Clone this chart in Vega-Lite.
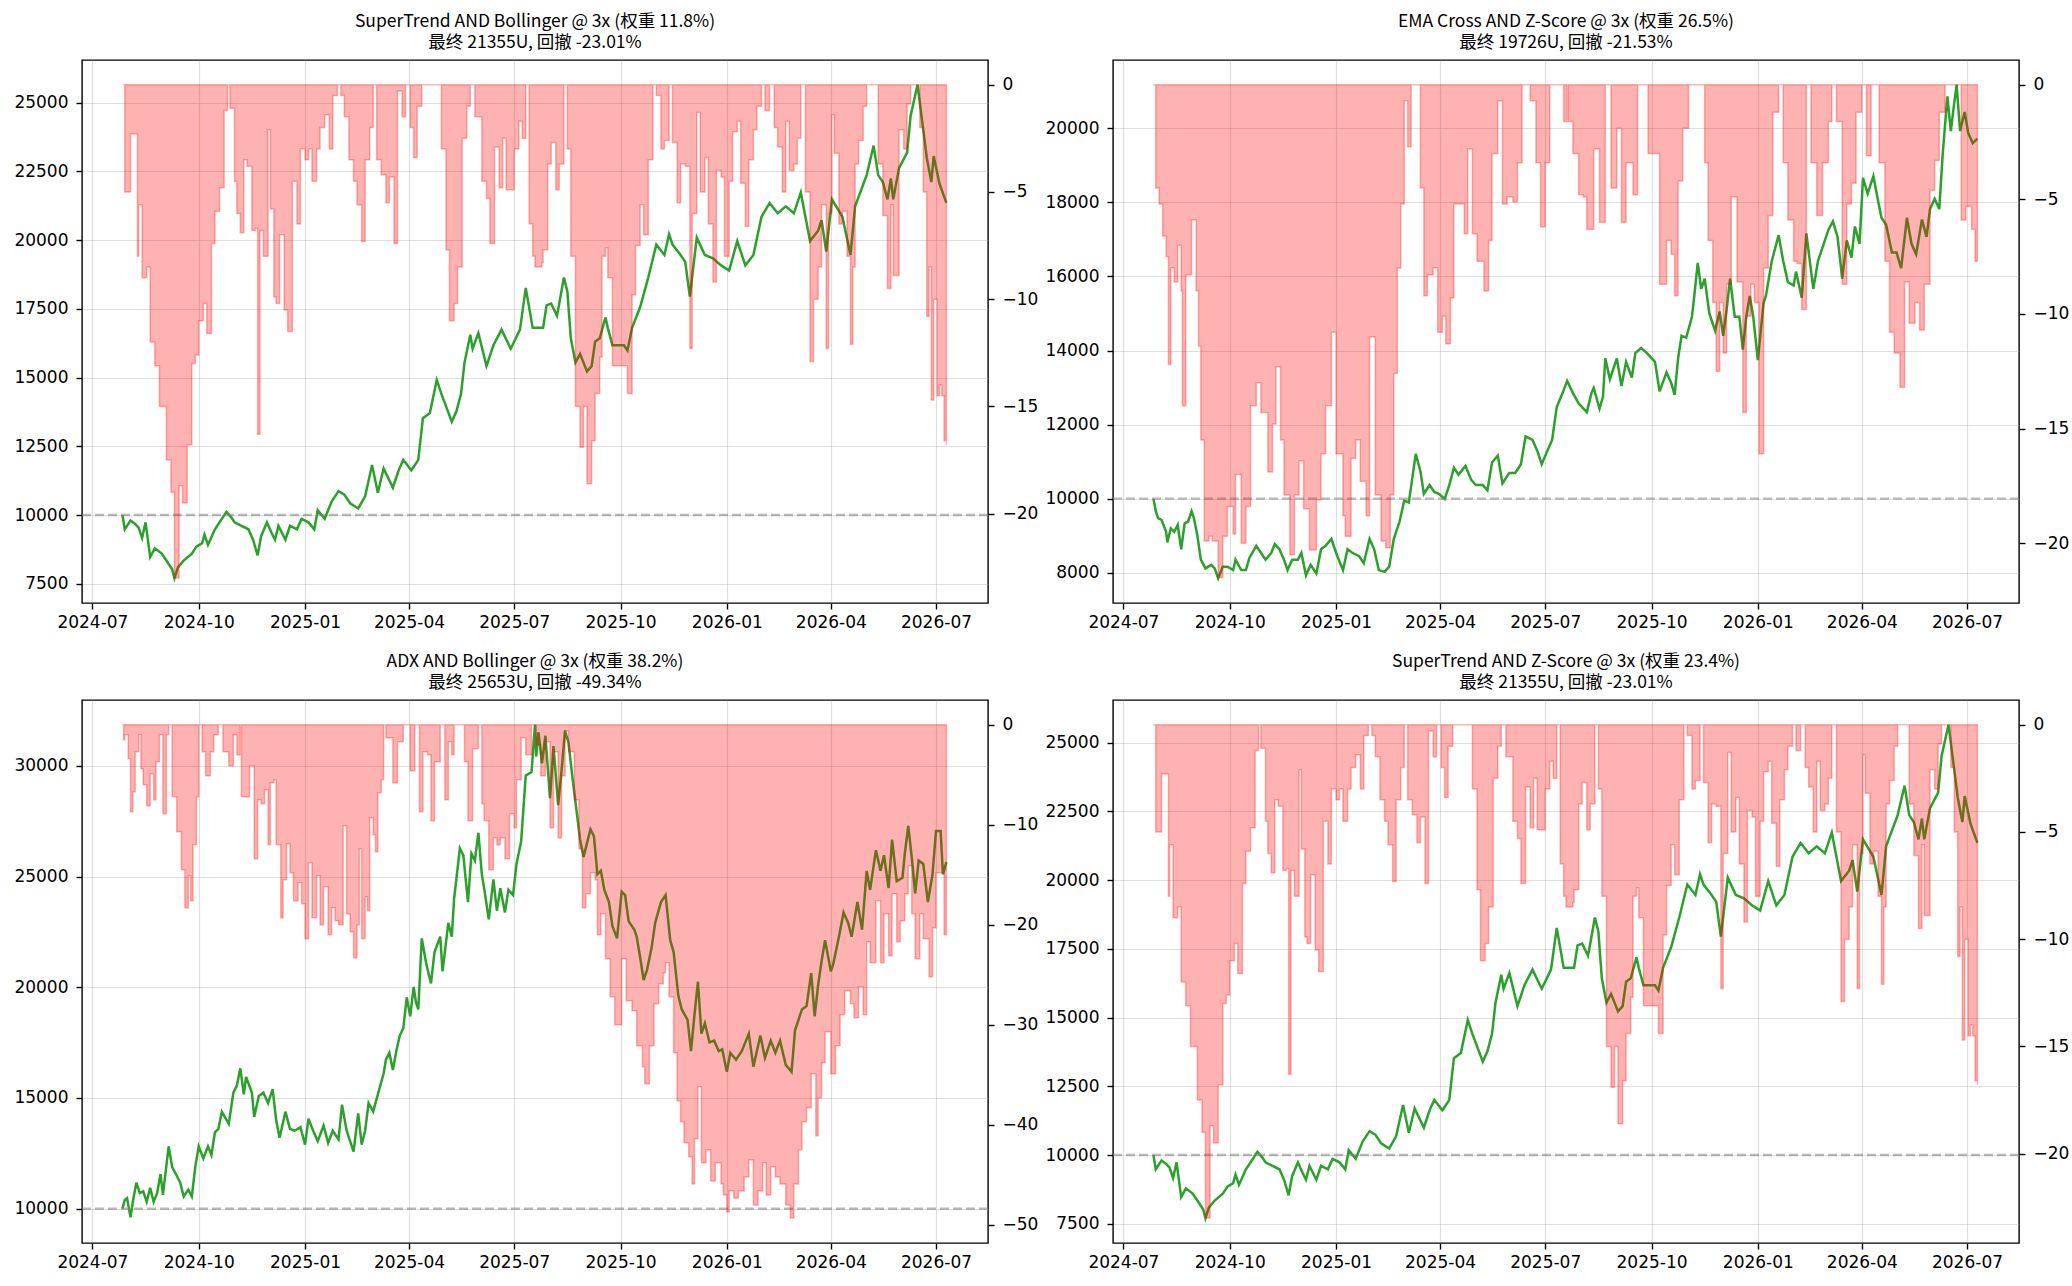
{
  "$schema": "https://vega.github.io/schema/vega-lite/v6.json",
  "autosize": {"type": "pad"},
  "padding": {"left": 13, "top": 11, "right": 0, "bottom": 0},
  "background": "white",
  "datasets": {
    "eq1": [
      {"t":"2024-07-27","v":10000},{"t":"2024-07-29","v":9482},{"t":"2024-08-03","v":9798},{"t":"2024-08-07","v":9672},
      {"t":"2024-08-10","v":9545},{"t":"2024-08-13","v":9166},{"t":"2024-08-16","v":9735},{"t":"2024-08-18","v":9103},
      {"t":"2024-08-20","v":8472},{"t":"2024-08-24","v":8788},{"t":"2024-08-30","v":8598},{"t":"2024-09-03","v":8345},
      {"t":"2024-09-08","v":8030},{"t":"2024-09-10","v":7699},{"t":"2024-09-13","v":8093},{"t":"2024-09-18","v":8345},
      {"t":"2024-09-25","v":8598},{"t":"2024-09-29","v":8851},{"t":"2024-10-04","v":8977},{"t":"2024-10-06","v":9293},
      {"t":"2024-10-09","v":8914},{"t":"2024-10-15","v":9482},{"t":"2024-10-19","v":9735},{"t":"2024-10-25","v":10114},
      {"t":"2024-10-29","v":9924},{"t":"2024-11-01","v":9735},{"t":"2024-11-07","v":9608},{"t":"2024-11-13","v":9482},
      {"t":"2024-11-17","v":9103},{"t":"2024-11-21","v":8535},{"t":"2024-11-24","v":9230},{"t":"2024-11-29","v":9735},
      {"t":"2024-12-03","v":9356},{"t":"2024-12-06","v":9103},{"t":"2024-12-09","v":9608},{"t":"2024-12-15","v":9103},
      {"t":"2024-12-19","v":9608},{"t":"2024-12-25","v":9482},{"t":"2024-12-29","v":9861},{"t":"2025-01-04","v":9735},
      {"t":"2025-01-09","v":9482},{"t":"2025-01-12","v":10177},{"t":"2025-01-18","v":9861},{"t":"2025-01-24","v":10493},
      {"t":"2025-01-30","v":10871},{"t":"2025-02-04","v":10745},{"t":"2025-02-09","v":10429},{"t":"2025-02-16","v":10240},
      {"t":"2025-02-22","v":10682},{"t":"2025-02-28","v":11819},{"t":"2025-03-05","v":10808},{"t":"2025-03-10","v":11692},
      {"t":"2025-03-18","v":10998},{"t":"2025-03-23","v":11629},{"t":"2025-03-27","v":12008},{"t":"2025-04-03","v":11629},
      {"t":"2025-04-09","v":12008},{"t":"2025-04-13","v":13524},{"t":"2025-04-19","v":13713},{"t":"2025-04-25","v":14913},
      {"t":"2025-04-29","v":14408},{"t":"2025-05-08","v":13398},{"t":"2025-05-12","v":13776},{"t":"2025-05-16","v":14408},
      {"t":"2025-05-19","v":15545},{"t":"2025-05-24","v":16555},{"t":"2025-05-26","v":16050},{"t":"2025-05-31","v":16618},
      {"t":"2025-06-07","v":15418},{"t":"2025-06-13","v":16176},{"t":"2025-06-20","v":16744},{"t":"2025-06-28","v":16050},
      {"t":"2025-07-06","v":16744},{"t":"2025-07-11","v":18260},{"t":"2025-07-17","v":16808},{"t":"2025-07-26","v":16808},
      {"t":"2025-07-29","v":17629},{"t":"2025-08-02","v":17692},{"t":"2025-08-07","v":17250},{"t":"2025-08-09","v":17692},
      {"t":"2025-08-13","v":18639},{"t":"2025-08-16","v":18134},{"t":"2025-08-19","v":16429},{"t":"2025-08-23","v":15545},
      {"t":"2025-08-27","v":15861},{"t":"2025-08-30","v":15545},{"t":"2025-09-02","v":15229},{"t":"2025-09-06","v":15418},
      {"t":"2025-09-09","v":16303},{"t":"2025-09-13","v":16429},{"t":"2025-09-18","v":17187},{"t":"2025-09-20","v":16808},
      {"t":"2025-09-24","v":16176},{"t":"2025-10-04","v":16176},{"t":"2025-10-07","v":15987},{"t":"2025-10-11","v":16808},
      {"t":"2025-10-18","v":17566},{"t":"2025-10-25","v":18639},{"t":"2025-11-01","v":19839},{"t":"2025-11-08","v":19460},
      {"t":"2025-11-12","v":20218},{"t":"2025-11-15","v":19839},{"t":"2025-11-22","v":19460},{"t":"2025-11-26","v":19207},
      {"t":"2025-11-30","v":17944},{"t":"2025-12-06","v":20091},{"t":"2025-12-13","v":19460},{"t":"2025-12-20","v":19334},
      {"t":"2025-12-27","v":19081},{"t":"2026-01-03","v":18892},{"t":"2026-01-10","v":19965},{"t":"2026-01-17","v":19081},
      {"t":"2026-01-24","v":19460},{"t":"2026-01-31","v":20849},{"t":"2026-02-07","v":21354},{"t":"2026-02-14","v":20975},
      {"t":"2026-02-21","v":21228},{"t":"2026-02-28","v":20975},{"t":"2026-03-06","v":21733},{"t":"2026-03-14","v":19965},
      {"t":"2026-03-21","v":20344},{"t":"2026-03-24","v":20723},{"t":"2026-03-28","v":19586},{"t":"2026-04-02","v":21481},
      {"t":"2026-04-11","v":20849},{"t":"2026-04-18","v":19460},{"t":"2026-04-22","v":21228},{"t":"2026-05-02","v":22365},
      {"t":"2026-05-08","v":23438},{"t":"2026-05-12","v":22365},{"t":"2026-05-16","v":22112},{"t":"2026-05-20","v":21481},
      {"t":"2026-05-23","v":22238},{"t":"2026-05-25","v":21481},{"t":"2026-05-30","v":22618},{"t":"2026-06-06","v":23186},
      {"t":"2026-06-09","v":24512},{"t":"2026-06-15","v":25653},{"t":"2026-06-20","v":24007},{"t":"2026-06-23","v":22997},
      {"t":"2026-06-27","v":22112},{"t":"2026-06-29","v":23059},{"t":"2026-07-04","v":22049},{"t":"2026-07-10","v":21355}
    ],
    "dd1": [
      {"t":"2024-07-27","v":0},{"t":"2024-07-29","v":-5.0},{"t":"2024-08-03","v":-2.3},{"t":"2024-08-09","v":-8.0},
      {"t":"2024-08-10","v":-5.6},{"t":"2024-08-13","v":-9.0},{"t":"2024-08-17","v":-8.5},{"t":"2024-08-20","v":-12.0},
      {"t":"2024-08-24","v":-13.1},{"t":"2024-08-28","v":-15.0},{"t":"2024-08-31","v":-15.0},{"t":"2024-09-03","v":-17.5},
      {"t":"2024-09-07","v":-19.0},{"t":"2024-09-10","v":-23.0},{"t":"2024-09-14","v":-18.7},{"t":"2024-09-17","v":-19.5},
      {"t":"2024-09-21","v":-16.8},{"t":"2024-09-25","v":-13.0},{"t":"2024-09-28","v":-12.6},{"t":"2024-10-01","v":-11.0},
      {"t":"2024-10-05","v":-10.2},{"t":"2024-10-08","v":-11.6},{"t":"2024-10-12","v":-7.4},{"t":"2024-10-15","v":-5.9},
      {"t":"2024-10-19","v":-4.8},{"t":"2024-10-23","v":-1.2},{"t":"2024-10-26","v":0},{"t":"2024-10-28","v":-1.1},
      {"t":"2024-11-01","v":-4.5},{"t":"2024-11-03","v":-6.0},{"t":"2024-11-06","v":-6.9},{"t":"2024-11-09","v":-3.5},
      {"t":"2024-11-12","v":-3.8},{"t":"2024-11-16","v":-6.8},{"t":"2024-11-19","v":-6.7},{"t":"2024-11-21","v":-16.3},
      {"t":"2024-11-23","v":-6.8},{"t":"2024-11-26","v":-8.0},{"t":"2024-11-30","v":-2.1},{"t":"2024-12-02","v":-5.8},
      {"t":"2024-12-05","v":-9.9},{"t":"2024-12-07","v":-10.2},{"t":"2024-12-10","v":-7.0},{"t":"2024-12-14","v":-10.5},
      {"t":"2024-12-17","v":-11.5},{"t":"2024-12-21","v":-4.5},{"t":"2024-12-25","v":-6.5},{"t":"2024-12-28","v":-3.0},
      {"t":"2025-01-01","v":-3.5},{"t":"2025-01-04","v":-3.0},{"t":"2025-01-07","v":-4.5},{"t":"2025-01-11","v":-3.0},
      {"t":"2025-01-14","v":-2.0},{"t":"2025-01-18","v":-1.4},{"t":"2025-01-22","v":-3.0},{"t":"2025-01-25","v":-0.5},
      {"t":"2025-01-29","v":0},{"t":"2025-02-01","v":-0.5},{"t":"2025-02-04","v":-1.5},{"t":"2025-02-08","v":-3.5},
      {"t":"2025-02-12","v":-4.5},{"t":"2025-02-15","v":-5.6},{"t":"2025-02-19","v":-7.3},{"t":"2025-02-22","v":-3.5},
      {"t":"2025-02-26","v":-2.0},{"t":"2025-03-01","v":0},{"t":"2025-03-04","v":-3.5},{"t":"2025-03-08","v":-4.2},
      {"t":"2025-03-12","v":-5.5},{"t":"2025-03-15","v":-4.3},{"t":"2025-03-19","v":-7.4},{"t":"2025-03-22","v":-0.3},
      {"t":"2025-03-26","v":-1.5},{"t":"2025-03-29","v":0},{"t":"2025-04-02","v":-2.0},{"t":"2025-04-05","v":-3.4},
      {"t":"2025-04-08","v":-1.0},{"t":"2025-04-12","v":0},{"t":"2025-04-29","v":-3.0},{"t":"2025-05-03","v":-7.7},
      {"t":"2025-05-06","v":-11.0},{"t":"2025-05-10","v":-10.2},{"t":"2025-05-13","v":-8.5},{"t":"2025-05-17","v":-2.5},
      {"t":"2025-05-21","v":-1.0},{"t":"2025-05-24","v":0},{"t":"2025-05-28","v":-1.5},{"t":"2025-05-31","v":-1.5},
      {"t":"2025-06-03","v":-4.5},{"t":"2025-06-07","v":-5.3},{"t":"2025-06-10","v":-7.4},{"t":"2025-06-14","v":-2.9},
      {"t":"2025-06-18","v":-4.8},{"t":"2025-06-21","v":-2.5},{"t":"2025-06-24","v":-4.9},{"t":"2025-06-28","v":-4.9},
      {"t":"2025-07-01","v":-3.0},{"t":"2025-07-05","v":-1.7},{"t":"2025-07-08","v":-2.5},{"t":"2025-07-11","v":0},
      {"t":"2025-07-14","v":-6.5},{"t":"2025-07-17","v":-8.0},{"t":"2025-07-19","v":-8.5},{"t":"2025-07-25","v":-8.3},
      {"t":"2025-07-26","v":-7.7},{"t":"2025-07-30","v":-3.7},{"t":"2025-08-02","v":-2.7},{"t":"2025-08-06","v":-4.9},
      {"t":"2025-08-09","v":-3.7},{"t":"2025-08-13","v":0},{"t":"2025-08-16","v":-3.0},{"t":"2025-08-19","v":-8.0},
      {"t":"2025-08-23","v":-15.0},{"t":"2025-08-27","v":-16.9},{"t":"2025-08-30","v":-15.0},{"t":"2025-09-02","v":-18.6},
      {"t":"2025-09-06","v":-16.6},{"t":"2025-09-09","v":-14.4},{"t":"2025-09-13","v":-12.7},{"t":"2025-09-15","v":-8.0},
      {"t":"2025-09-18","v":-7.6},{"t":"2025-09-20","v":-9.0},{"t":"2025-09-24","v":-13.1},{"t":"2025-10-04","v":-13.1},
      {"t":"2025-10-07","v":-14.4},{"t":"2025-10-11","v":-9.8},{"t":"2025-10-14","v":-7.5},{"t":"2025-10-18","v":-5.6},
      {"t":"2025-10-21","v":-7.0},{"t":"2025-10-25","v":-3.5},{"t":"2025-10-29","v":0},{"t":"2025-11-01","v":-0.5},
      {"t":"2025-11-05","v":-3.0},{"t":"2025-11-08","v":-2.6},{"t":"2025-11-12","v":0},{"t":"2025-11-15","v":-2.7},
      {"t":"2025-11-19","v":-5.5},{"t":"2025-11-22","v":-3.7},{"t":"2025-11-26","v":-3.8},{"t":"2025-11-30","v":-12.3},
      {"t":"2025-12-02","v":-6.0},{"t":"2025-12-06","v":-1.3},{"t":"2025-12-09","v":-5.0},{"t":"2025-12-13","v":-3.4},
      {"t":"2025-12-16","v":-6.5},{"t":"2025-12-20","v":-9.2},{"t":"2025-12-23","v":-4.0},{"t":"2025-12-27","v":-4.3},
      {"t":"2025-12-30","v":-8.0},{"t":"2026-01-03","v":-4.5},{"t":"2026-01-06","v":-2.2},{"t":"2026-01-10","v":-1.7},
      {"t":"2026-01-13","v":-4.6},{"t":"2026-01-17","v":-6.6},{"t":"2026-01-20","v":-3.5},{"t":"2026-01-24","v":-2.1},
      {"t":"2026-01-27","v":-1.0},{"t":"2026-01-31","v":0},{"t":"2026-02-03","v":-1.2},{"t":"2026-02-07","v":0},
      {"t":"2026-02-11","v":-2.0},{"t":"2026-02-14","v":-2.9},{"t":"2026-02-18","v":-5.0},{"t":"2026-02-21","v":-1.7},
      {"t":"2026-02-24","v":-4.0},{"t":"2026-02-28","v":-3.7},{"t":"2026-03-03","v":-2.5},{"t":"2026-03-06","v":0},
      {"t":"2026-03-10","v":-5.0},{"t":"2026-03-14","v":-12.9},{"t":"2026-03-17","v":-10.0},{"t":"2026-03-21","v":-8.5},
      {"t":"2026-03-24","v":-5.6},{"t":"2026-03-28","v":-12.3},{"t":"2026-03-30","v":-6.0},{"t":"2026-04-02","v":-1.4},
      {"t":"2026-04-04","v":-3.2},{"t":"2026-04-08","v":-6.5},{"t":"2026-04-11","v":-5.9},{"t":"2026-04-15","v":-8.0},
      {"t":"2026-04-18","v":-12.1},{"t":"2026-04-20","v":-8.5},{"t":"2026-04-22","v":-3.7},{"t":"2026-04-25","v":-2.6},
      {"t":"2026-04-29","v":-1.0},{"t":"2026-05-02","v":0},{"t":"2026-05-08","v":0},{"t":"2026-05-12","v":-3.7},
      {"t":"2026-05-16","v":-6.1},{"t":"2026-05-20","v":-9.5},{"t":"2026-05-23","v":-5.6},{"t":"2026-05-25","v":-8.9},
      {"t":"2026-05-30","v":-2.1},{"t":"2026-06-03","v":-3.0},{"t":"2026-06-06","v":-0.9},{"t":"2026-06-09","v":0},
      {"t":"2026-06-15","v":0},{"t":"2026-06-17","v":-2.0},{"t":"2026-06-20","v":-5.0},{"t":"2026-06-23","v":-10.8},
      {"t":"2026-06-25","v":-8.5},{"t":"2026-06-27","v":-14.7},{"t":"2026-06-29","v":-10.0},{"t":"2026-07-02","v":-14.5},
      {"t":"2026-07-04","v":-14.0},{"t":"2026-07-06","v":-14.5},{"t":"2026-07-08","v":-16.6},{"t":"2026-07-10","v":-16.8}
    ],
    "eq2": [
      {"t":"2024-07-27","v":10000},{"t":"2024-07-29","v":9662},{"t":"2024-07-31","v":9475},{"t":"2024-08-03","v":9428},
      {"t":"2024-08-07","v":9100},{"t":"2024-08-08","v":8819},{"t":"2024-08-11","v":9194},{"t":"2024-08-14","v":9100},
      {"t":"2024-08-17","v":9287},{"t":"2024-08-20","v":8631},{"t":"2024-08-23","v":9334},{"t":"2024-08-26","v":9381},
      {"t":"2024-08-29","v":9662},{"t":"2024-08-31","v":9475},{"t":"2024-09-03","v":9006},{"t":"2024-09-06","v":8350},
      {"t":"2024-09-10","v":8115},{"t":"2024-09-15","v":8209},{"t":"2024-09-18","v":8115},{"t":"2024-09-21","v":7847},
      {"t":"2024-09-25","v":8162},{"t":"2024-09-29","v":8162},{"t":"2024-10-04","v":8069},{"t":"2024-10-06","v":8350},
      {"t":"2024-10-11","v":8069},{"t":"2024-10-15","v":8069},{"t":"2024-10-18","v":8397},{"t":"2024-10-24","v":8725},
      {"t":"2024-10-28","v":8537},{"t":"2024-11-01","v":8350},{"t":"2024-11-06","v":8537},{"t":"2024-11-09","v":8772},
      {"t":"2024-11-13","v":8631},{"t":"2024-11-17","v":8350},{"t":"2024-11-20","v":8069},{"t":"2024-11-24","v":8350},
      {"t":"2024-11-29","v":8350},{"t":"2024-12-02","v":8537},{"t":"2024-12-06","v":7928},{"t":"2024-12-10","v":8209},
      {"t":"2024-12-15","v":7975},{"t":"2024-12-19","v":8631},{"t":"2024-12-23","v":8725},{"t":"2024-12-28","v":8912},
      {"t":"2025-01-01","v":8537},{"t":"2025-01-07","v":8069},{"t":"2025-01-11","v":8631},{"t":"2025-01-15","v":8537},
      {"t":"2025-01-21","v":8444},{"t":"2025-01-25","v":8256},{"t":"2025-01-30","v":8912},{"t":"2025-02-03","v":8631},
      {"t":"2025-02-07","v":8069},{"t":"2025-02-12","v":8022},{"t":"2025-02-16","v":8162},{"t":"2025-02-20","v":8912},
      {"t":"2025-02-25","v":9381},{"t":"2025-03-01","v":9944},{"t":"2025-03-05","v":9897},{"t":"2025-03-11","v":11210},
      {"t":"2025-03-15","v":10741},{"t":"2025-03-18","v":10131},{"t":"2025-03-23","v":10366},{"t":"2025-03-27","v":10178},
      {"t":"2025-03-31","v":10131},{"t":"2025-04-05","v":9991},{"t":"2025-04-09","v":10366},{"t":"2025-04-13","v":10834},
      {"t":"2025-04-17","v":10647},{"t":"2025-04-23","v":10881},{"t":"2025-04-28","v":10506},{"t":"2025-05-02","v":10366},
      {"t":"2025-05-08","v":10366},{"t":"2025-05-12","v":10225},{"t":"2025-05-16","v":10975},{"t":"2025-05-21","v":11163},
      {"t":"2025-05-25","v":10413},{"t":"2025-05-31","v":10694},{"t":"2025-06-05","v":10694},{"t":"2025-06-10","v":10928},
      {"t":"2025-06-14","v":11678},{"t":"2025-06-20","v":11585},{"t":"2025-06-24","v":11303},{"t":"2025-06-28","v":10928},
      {"t":"2025-07-03","v":11303},{"t":"2025-07-07","v":11585},{"t":"2025-07-11","v":12475},{"t":"2025-07-16","v":12850},
      {"t":"2025-07-20","v":13179},{"t":"2025-07-25","v":12850},{"t":"2025-07-30","v":12569},{"t":"2025-08-06","v":12335},
      {"t":"2025-08-10","v":12850},{"t":"2025-08-12","v":12991},{"t":"2025-08-17","v":12428},{"t":"2025-08-20","v":12757},
      {"t":"2025-08-22","v":13788},{"t":"2025-08-26","v":13225},{"t":"2025-09-01","v":13788},{"t":"2025-09-05","v":13038},
      {"t":"2025-09-09","v":13694},{"t":"2025-09-14","v":13272},{"t":"2025-09-17","v":13928},{"t":"2025-09-22","v":14069},
      {"t":"2025-09-27","v":13928},{"t":"2025-10-04","v":13694},{"t":"2025-10-08","v":12897},{"t":"2025-10-14","v":13413},
      {"t":"2025-10-18","v":13132},{"t":"2025-10-21","v":12803},{"t":"2025-10-24","v":13788},{"t":"2025-10-27","v":14397},
      {"t":"2025-10-31","v":14350},{"t":"2025-11-05","v":14913},{"t":"2025-11-07","v":15476},{"t":"2025-11-10","v":16366},
      {"t":"2025-11-13","v":15663},{"t":"2025-11-16","v":15944},{"t":"2025-11-20","v":15007},{"t":"2025-11-25","v":14538},
      {"t":"2025-11-29","v":15054},{"t":"2025-12-02","v":14397},{"t":"2025-12-05","v":15101},{"t":"2025-12-08","v":15944},
      {"t":"2025-12-12","v":14913},{"t":"2025-12-16","v":14913},{"t":"2025-12-19","v":14022},{"t":"2025-12-22","v":14913},
      {"t":"2025-12-25","v":15476},{"t":"2025-12-28","v":14913},{"t":"2026-01-01","v":13741},{"t":"2026-01-06","v":15288},
      {"t":"2026-01-08","v":15476},{"t":"2026-01-13","v":16413},{"t":"2026-01-19","v":17116},{"t":"2026-01-23","v":16413},
      {"t":"2026-01-27","v":15851},{"t":"2026-02-01","v":15757},{"t":"2026-02-03","v":16132},{"t":"2026-02-08","v":15429},
      {"t":"2026-02-12","v":17163},{"t":"2026-02-18","v":15663},{"t":"2026-02-22","v":16413},{"t":"2026-02-26","v":16788},
      {"t":"2026-03-03","v":17257},{"t":"2026-03-07","v":17491},{"t":"2026-03-11","v":17069},{"t":"2026-03-15","v":15944},
      {"t":"2026-03-19","v":16976},{"t":"2026-03-23","v":16507},{"t":"2026-03-26","v":17351},{"t":"2026-03-30","v":16882},
      {"t":"2026-04-02","v":18663},{"t":"2026-04-06","v":18241},{"t":"2026-04-11","v":18710},{"t":"2026-04-15","v":18054},
      {"t":"2026-04-18","v":17585},{"t":"2026-04-22","v":17398},{"t":"2026-04-27","v":16648},{"t":"2026-05-01","v":16648},
      {"t":"2026-05-05","v":16226},{"t":"2026-05-10","v":17585},{"t":"2026-05-14","v":16882},{"t":"2026-05-18","v":16601},
      {"t":"2026-05-23","v":17538},{"t":"2026-05-27","v":17069},{"t":"2026-05-30","v":17820},{"t":"2026-06-03","v":18101},
      {"t":"2026-06-07","v":17820},{"t":"2026-06-10","v":19320},{"t":"2026-06-14","v":20867},{"t":"2026-06-17","v":19929},
      {"t":"2026-06-19","v":20445},{"t":"2026-06-22","v":21181},{"t":"2026-06-25","v":19929},{"t":"2026-06-29","v":20445},
      {"t":"2026-07-02","v":19882},{"t":"2026-07-06","v":19601},{"t":"2026-07-10","v":19726}
    ],
    "dd2": [
      {"t":"2024-07-27","v":0},{"t":"2024-07-29","v":-4.5},{"t":"2024-08-01","v":-5.2},{"t":"2024-08-04","v":-6.6},
      {"t":"2024-08-07","v":-7.5},{"t":"2024-08-09","v":-12.2},{"t":"2024-08-11","v":-8.0},{"t":"2024-08-14","v":-8.6},
      {"t":"2024-08-17","v":-7.0},{"t":"2024-08-20","v":-9.0},{"t":"2024-08-21","v":-14.0},{"t":"2024-08-24","v":-8.3},
      {"t":"2024-08-29","v":-5.9},{"t":"2024-09-02","v":-9.0},{"t":"2024-09-04","v":-11.4},{"t":"2024-09-06","v":-15.5},
      {"t":"2024-09-09","v":-19.9},{"t":"2024-09-13","v":-19.7},{"t":"2024-09-16","v":-19.9},{"t":"2024-09-21","v":-21.5},
      {"t":"2024-09-25","v":-19.7},{"t":"2024-09-29","v":-18.4},{"t":"2024-10-04","v":-19.6},{"t":"2024-10-06","v":-17.0},
      {"t":"2024-10-11","v":-20.0},{"t":"2024-10-15","v":-18.4},{"t":"2024-10-19","v":-14.0},{"t":"2024-10-24","v":-13.0},
      {"t":"2024-10-28","v":-14.3},{"t":"2024-11-03","v":-16.9},{"t":"2024-11-07","v":-14.8},{"t":"2024-11-10","v":-12.3},
      {"t":"2024-11-14","v":-15.5},{"t":"2024-11-17","v":-17.9},{"t":"2024-11-22","v":-20.5},{"t":"2024-11-26","v":-17.9},
      {"t":"2024-11-30","v":-16.4},{"t":"2024-12-04","v":-18.5},{"t":"2024-12-09","v":-20.3},{"t":"2024-12-15","v":-18.1},
      {"t":"2024-12-19","v":-16.1},{"t":"2024-12-23","v":-14.0},{"t":"2024-12-28","v":-10.8},{"t":"2025-01-01","v":-16.1},
      {"t":"2025-01-07","v":-18.8},{"t":"2025-01-09","v":-19.7},{"t":"2025-01-14","v":-16.3},{"t":"2025-01-18","v":-15.5},
      {"t":"2025-01-22","v":-17.3},{"t":"2025-01-27","v":-18.8},{"t":"2025-01-30","v":-11.0},{"t":"2025-02-04","v":-17.9},
      {"t":"2025-02-09","v":-19.9},{"t":"2025-02-13","v":-20.2},{"t":"2025-02-17","v":-17.9},{"t":"2025-02-20","v":-12.6},
      {"t":"2025-02-23","v":-8.0},{"t":"2025-02-26","v":-5.2},{"t":"2025-03-01","v":-0.7},{"t":"2025-03-04","v":-2.7},
      {"t":"2025-03-07","v":0},{"t":"2025-03-15","v":-4.5},{"t":"2025-03-18","v":-9.2},{"t":"2025-03-21","v":-8.3},
      {"t":"2025-03-26","v":-8.0},{"t":"2025-03-30","v":-10.8},{"t":"2025-04-03","v":-10.1},{"t":"2025-04-06","v":-11.3},
      {"t":"2025-04-10","v":-9.3},{"t":"2025-04-13","v":-5.2},{"t":"2025-04-17","v":-5.2},{"t":"2025-04-22","v":-6.5},
      {"t":"2025-04-25","v":-2.8},{"t":"2025-04-29","v":-6.5},{"t":"2025-05-03","v":-7.7},{"t":"2025-05-09","v":-9.0},
      {"t":"2025-05-13","v":-6.8},{"t":"2025-05-16","v":-3.0},{"t":"2025-05-21","v":-0.7},{"t":"2025-05-25","v":-5.2},
      {"t":"2025-05-29","v":-4.9},{"t":"2025-06-03","v":-5.1},{"t":"2025-06-07","v":-3.4},{"t":"2025-06-11","v":0},
      {"t":"2025-06-18","v":-0.7},{"t":"2025-06-23","v":-3.4},{"t":"2025-06-27","v":-6.2},{"t":"2025-07-01","v":-3.4},
      {"t":"2025-07-05","v":0},{"t":"2025-07-17","v":-1.6},{"t":"2025-07-20","v":0},{"t":"2025-07-21","v":-1.6},
      {"t":"2025-07-25","v":-3.0},{"t":"2025-07-30","v":-4.8},{"t":"2025-08-03","v":-4.9},{"t":"2025-08-06","v":-6.3},
      {"t":"2025-08-12","v":-2.8},{"t":"2025-08-17","v":-6.0},{"t":"2025-08-22","v":0},{"t":"2025-08-27","v":-4.5},
      {"t":"2025-09-01","v":-1.9},{"t":"2025-09-05","v":-6.0},{"t":"2025-09-09","v":-3.4},{"t":"2025-09-15","v":-4.8},
      {"t":"2025-09-19","v":0},{"t":"2025-09-28","v":-3.0},{"t":"2025-10-05","v":-3.0},{"t":"2025-10-08","v":-8.7},
      {"t":"2025-10-14","v":-6.8},{"t":"2025-10-18","v":-7.4},{"t":"2025-10-21","v":-9.2},{"t":"2025-10-24","v":-4.2},
      {"t":"2025-10-28","v":-1.9},{"t":"2025-11-02","v":0},{"t":"2025-11-16","v":-3.4},{"t":"2025-11-19","v":-6.8},
      {"t":"2025-11-23","v":-9.5},{"t":"2025-11-26","v":-12.5},{"t":"2025-11-29","v":-9.5},{"t":"2025-12-02","v":-11.7},
      {"t":"2025-12-05","v":-8.7},{"t":"2025-12-09","v":-4.9},{"t":"2025-12-14","v":-8.6},{"t":"2025-12-19","v":-14.3},
      {"t":"2025-12-22","v":-10.1},{"t":"2025-12-26","v":-8.7},{"t":"2025-12-29","v":-9.5},{"t":"2026-01-02","v":-16.1},
      {"t":"2026-01-06","v":-8.0},{"t":"2026-01-10","v":-5.7},{"t":"2026-01-14","v":-1.2},{"t":"2026-01-19","v":0},
      {"t":"2026-01-23","v":-3.4},{"t":"2026-01-27","v":-5.9},{"t":"2026-02-01","v":-7.7},{"t":"2026-02-04","v":-7.8},
      {"t":"2026-02-08","v":-9.8},{"t":"2026-02-12","v":0},{"t":"2026-02-16","v":-3.4},{"t":"2026-02-21","v":-5.7},
      {"t":"2026-02-26","v":-3.4},{"t":"2026-03-03","v":-1.6},{"t":"2026-03-06","v":0},{"t":"2026-03-10","v":-1.6},
      {"t":"2026-03-15","v":-8.7},{"t":"2026-03-19","v":-5.2},{"t":"2026-03-23","v":-4.3},{"t":"2026-03-27","v":-1.2},
      {"t":"2026-04-01","v":0},{"t":"2026-04-05","v":-3.1},{"t":"2026-04-09","v":0},{"t":"2026-04-16","v":-3.4},
      {"t":"2026-04-21","v":-7.7},{"t":"2026-04-25","v":-10.8},{"t":"2026-04-29","v":-11.7},{"t":"2026-05-04","v":-13.2},
      {"t":"2026-05-08","v":-8.6},{"t":"2026-05-12","v":-10.4},{"t":"2026-05-17","v":-9.5},{"t":"2026-05-21","v":-10.7},
      {"t":"2026-05-25","v":-8.7},{"t":"2026-05-30","v":-4.6},{"t":"2026-06-03","v":-3.3},{"t":"2026-06-07","v":-1.2},
      {"t":"2026-06-12","v":0},{"t":"2026-06-26","v":-5.9},{"t":"2026-06-30","v":-5.3},{"t":"2026-07-05","v":-6.3},
      {"t":"2026-07-08","v":-7.7},{"t":"2026-07-10","v":-6.9}
    ],
    "eq3": [
      {"t":"2024-07-27","v":10000},{"t":"2024-07-29","v":10391},{"t":"2024-07-31","v":10470},{"t":"2024-08-03","v":9609},
      {"t":"2024-08-05","v":10313},{"t":"2024-08-08","v":11174},{"t":"2024-08-11","v":10704},{"t":"2024-08-14","v":10783},
      {"t":"2024-08-17","v":10313},{"t":"2024-08-20","v":10939},{"t":"2024-08-23","v":10313},{"t":"2024-08-26","v":10704},
      {"t":"2024-08-29","v":11565},{"t":"2024-08-31","v":10626},{"t":"2024-09-05","v":12817},{"t":"2024-09-08","v":11878},
      {"t":"2024-09-12","v":11487},{"t":"2024-09-15","v":11174},{"t":"2024-09-18","v":10548},{"t":"2024-09-22","v":10861},
      {"t":"2024-09-25","v":10548},{"t":"2024-09-28","v":11878},{"t":"2024-10-01","v":12817},{"t":"2024-10-05","v":12269},
      {"t":"2024-10-09","v":12817},{"t":"2024-10-12","v":12426},{"t":"2024-10-15","v":13443},{"t":"2024-10-18","v":13600},
      {"t":"2024-10-21","v":14382},{"t":"2024-10-27","v":13834},{"t":"2024-10-31","v":15243},{"t":"2024-11-03","v":15556},
      {"t":"2024-11-06","v":16338},{"t":"2024-11-09","v":15165},{"t":"2024-11-11","v":15947},{"t":"2024-11-16","v":15243},
      {"t":"2024-11-18","v":14147},{"t":"2024-11-22","v":15086},{"t":"2024-11-26","v":15243},{"t":"2024-11-30","v":14773},
      {"t":"2024-12-04","v":15399},{"t":"2024-12-07","v":13991},{"t":"2024-12-10","v":13208},{"t":"2024-12-15","v":14382},
      {"t":"2024-12-19","v":13600},{"t":"2024-12-23","v":13521},{"t":"2024-12-28","v":13678},{"t":"2025-01-01","v":12895},
      {"t":"2025-01-04","v":14069},{"t":"2025-01-08","v":13521},{"t":"2025-01-12","v":13052},{"t":"2025-01-17","v":13756},
      {"t":"2025-01-21","v":12974},{"t":"2025-01-25","v":13521},{"t":"2025-01-30","v":13130},{"t":"2025-02-02","v":14695},
      {"t":"2025-02-06","v":13521},{"t":"2025-02-09","v":13052},{"t":"2025-02-12","v":12582},{"t":"2025-02-16","v":14304},
      {"t":"2025-02-19","v":12895},{"t":"2025-02-22","v":13521},{"t":"2025-02-25","v":14773},{"t":"2025-03-01","v":14382},
      {"t":"2025-03-05","v":15165},{"t":"2025-03-10","v":16104},{"t":"2025-03-12","v":16730},{"t":"2025-03-15","v":17043},
      {"t":"2025-03-18","v":16260},{"t":"2025-03-21","v":17121},{"t":"2025-03-24","v":17825},{"t":"2025-03-27","v":18138},
      {"t":"2025-03-30","v":19547},{"t":"2025-04-02","v":18686},{"t":"2025-04-05","v":20016},{"t":"2025-04-07","v":19312},
      {"t":"2025-04-09","v":18999},{"t":"2025-04-12","v":22207},{"t":"2025-04-16","v":21033},{"t":"2025-04-20","v":20173},
      {"t":"2025-04-23","v":21581},{"t":"2025-04-28","v":22285},{"t":"2025-04-30","v":20720},{"t":"2025-05-05","v":22911},
      {"t":"2025-05-08","v":22285},{"t":"2025-05-10","v":24007},{"t":"2025-05-15","v":26276},{"t":"2025-05-18","v":25963},
      {"t":"2025-05-22","v":23850},{"t":"2025-05-25","v":26041},{"t":"2025-05-28","v":25728},{"t":"2025-05-31","v":26980},
      {"t":"2025-06-03","v":25102},{"t":"2025-06-05","v":24476},{"t":"2025-06-09","v":23068},{"t":"2025-06-13","v":24868},
      {"t":"2025-06-16","v":23459},{"t":"2025-06-19","v":24476},{"t":"2025-06-23","v":23381},{"t":"2025-06-26","v":24398},
      {"t":"2025-06-30","v":24163},{"t":"2025-07-03","v":25572},{"t":"2025-07-07","v":26589},{"t":"2025-07-11","v":29563},
      {"t":"2025-07-16","v":29719},{"t":"2025-07-19","v":31862},{"t":"2025-07-20","v":30423},{"t":"2025-07-22","v":31519},
      {"t":"2025-07-25","v":30110},{"t":"2025-07-28","v":31362},{"t":"2025-07-30","v":29954},{"t":"2025-08-01","v":28545},
      {"t":"2025-08-04","v":30893},{"t":"2025-08-08","v":28232},{"t":"2025-08-11","v":29797},{"t":"2025-08-14","v":31597},
      {"t":"2025-08-17","v":31050},{"t":"2025-08-20","v":29641},{"t":"2025-08-23","v":28389},{"t":"2025-08-27","v":26667},
      {"t":"2025-08-30","v":25885},{"t":"2025-09-02","v":26511},{"t":"2025-09-05","v":27137},{"t":"2025-09-08","v":26824},
      {"t":"2025-09-11","v":25102},{"t":"2025-09-14","v":25259},{"t":"2025-09-17","v":24398},{"t":"2025-09-21","v":23850},
      {"t":"2025-09-24","v":22755},{"t":"2025-09-28","v":22207},{"t":"2025-10-02","v":24320},{"t":"2025-10-05","v":24163},
      {"t":"2025-10-08","v":22990},{"t":"2025-10-13","v":22598},{"t":"2025-10-15","v":22285},{"t":"2025-10-18","v":21346},
      {"t":"2025-10-21","v":20329},{"t":"2025-10-24","v":20799},{"t":"2025-10-28","v":21816},{"t":"2025-10-31","v":22911},
      {"t":"2025-11-05","v":23850},{"t":"2025-11-09","v":24163},{"t":"2025-11-13","v":22129},{"t":"2025-11-16","v":21581},
      {"t":"2025-11-20","v":19625},{"t":"2025-11-23","v":18999},{"t":"2025-11-28","v":18529},{"t":"2025-12-01","v":17121},
      {"t":"2025-12-04","v":18764},{"t":"2025-12-07","v":20251},{"t":"2025-12-10","v":17903},{"t":"2025-12-13","v":18373},
      {"t":"2025-12-17","v":17512},{"t":"2025-12-21","v":17590},{"t":"2025-12-25","v":17121},{"t":"2025-12-28","v":17199},
      {"t":"2026-01-01","v":16182},{"t":"2026-01-04","v":17043},{"t":"2026-01-09","v":16730},{"t":"2026-01-14","v":17121},
      {"t":"2026-01-20","v":17903},{"t":"2026-01-24","v":16417},{"t":"2026-01-30","v":17825},{"t":"2026-02-03","v":16808},
      {"t":"2026-02-08","v":17590},{"t":"2026-02-12","v":17043},{"t":"2026-02-16","v":17590},{"t":"2026-02-21","v":16495},
      {"t":"2026-02-26","v":16182},{"t":"2026-03-01","v":18060},{"t":"2026-03-07","v":18999},{"t":"2026-03-11","v":19155},
      {"t":"2026-03-15","v":20642},{"t":"2026-03-18","v":18686},{"t":"2026-03-21","v":20094},{"t":"2026-03-24","v":21190},
      {"t":"2026-03-27","v":22129},{"t":"2026-04-01","v":20720},{"t":"2026-04-03","v":21033},{"t":"2026-04-08","v":22285},
      {"t":"2026-04-12","v":23381},{"t":"2026-04-16","v":22911},{"t":"2026-04-19","v":22285},{"t":"2026-04-24","v":23850},
      {"t":"2026-04-28","v":22598},{"t":"2026-05-02","v":25259},{"t":"2026-05-05","v":24398},{"t":"2026-05-10","v":26198},
      {"t":"2026-05-14","v":25259},{"t":"2026-05-17","v":25963},{"t":"2026-05-21","v":24476},{"t":"2026-05-24","v":26667},
      {"t":"2026-05-28","v":24789},{"t":"2026-06-02","v":24946},{"t":"2026-06-04","v":26041},{"t":"2026-06-07","v":27293},
      {"t":"2026-06-10","v":25885},{"t":"2026-06-13","v":24242},{"t":"2026-06-16","v":25728},{"t":"2026-06-20","v":25572},
      {"t":"2026-06-24","v":23850},{"t":"2026-06-28","v":25102},{"t":"2026-07-01","v":27059},{"t":"2026-07-05","v":27059},
      {"t":"2026-07-07","v":25102},{"t":"2026-07-10","v":25653}
    ],
    "dd3": [
      {"t":"2024-07-27","v":0},{"t":"2024-07-28","v":-1.5},{"t":"2024-07-29","v":-1.0},{"t":"2024-08-01","v":-3.4},
      {"t":"2024-08-03","v":-8.7},{"t":"2024-08-05","v":-6.7},{"t":"2024-08-07","v":-2.7},{"t":"2024-08-10","v":-1.0},
      {"t":"2024-08-12","v":-4.4},{"t":"2024-08-14","v":-6.0},{"t":"2024-08-17","v":-8.1},{"t":"2024-08-20","v":-4.9},
      {"t":"2024-08-23","v":-7.5},{"t":"2024-08-25","v":-3.7},{"t":"2024-08-28","v":-1.0},{"t":"2024-08-31","v":-8.9},
      {"t":"2024-09-03","v":-1.0},{"t":"2024-09-05","v":0},{"t":"2024-09-08","v":-7.2},{"t":"2024-09-12","v":-10.7},
      {"t":"2024-09-16","v":-14.5},{"t":"2024-09-19","v":-18.3},{"t":"2024-09-22","v":-15.1},{"t":"2024-09-24","v":-17.6},
      {"t":"2024-09-26","v":-12.0},{"t":"2024-09-29","v":-7.2},{"t":"2024-10-01","v":0},{"t":"2024-10-04","v":-2.7},
      {"t":"2024-10-07","v":-5.1},{"t":"2024-10-11","v":-2.7},{"t":"2024-10-14","v":-1.0},{"t":"2024-10-18","v":0},
      {"t":"2024-10-22","v":-2.7},{"t":"2024-10-27","v":-4.1},{"t":"2024-10-31","v":-1.0},{"t":"2024-11-03","v":-3.0},
      {"t":"2024-11-06","v":0},{"t":"2024-11-07","v":-7.2},{"t":"2024-11-11","v":-7.2},{"t":"2024-11-14","v":-4.1},
      {"t":"2024-11-18","v":-13.4},{"t":"2024-11-21","v":-7.5},{"t":"2024-11-24","v":-7.9},{"t":"2024-11-27","v":-6.5},
      {"t":"2024-11-30","v":-12.0},{"t":"2024-12-02","v":-5.8},{"t":"2024-12-05","v":-5.5},{"t":"2024-12-07","v":-12.0},
      {"t":"2024-12-11","v":-19.3},{"t":"2024-12-13","v":-15.5},{"t":"2024-12-16","v":-11.9},{"t":"2024-12-19","v":-14.8},
      {"t":"2024-12-22","v":-17.6},{"t":"2024-12-26","v":-15.8},{"t":"2024-12-29","v":-17.9},{"t":"2025-01-01","v":-21.4},
      {"t":"2025-01-04","v":-13.8},{"t":"2025-01-07","v":-19.3},{"t":"2025-01-11","v":-15.1},{"t":"2025-01-14","v":-20.0},
      {"t":"2025-01-17","v":-16.2},{"t":"2025-01-21","v":-21.0},{"t":"2025-01-24","v":-18.3},{"t":"2025-01-27","v":-19.6},
      {"t":"2025-01-30","v":-20.0},{"t":"2025-02-03","v":-10.1},{"t":"2025-02-06","v":-18.9},{"t":"2025-02-09","v":-20.7},
      {"t":"2025-02-12","v":-23.3},{"t":"2025-02-15","v":-20.0},{"t":"2025-02-17","v":-12.4},{"t":"2025-02-19","v":-21.4},
      {"t":"2025-02-22","v":-17.2},{"t":"2025-02-24","v":-18.6},{"t":"2025-02-26","v":-9.3},{"t":"2025-03-01","v":-11.0},
      {"t":"2025-03-03","v":-12.7},{"t":"2025-03-05","v":-6.8},{"t":"2025-03-08","v":-5.5},{"t":"2025-03-10","v":0},
      {"t":"2025-03-12","v":-1.3},{"t":"2025-03-18","v":-5.8},{"t":"2025-03-22","v":-1.7},{"t":"2025-03-27","v":0},
      {"t":"2025-04-02","v":-4.6},{"t":"2025-04-06","v":0},{"t":"2025-04-10","v":-8.7},{"t":"2025-04-13","v":-2.7},
      {"t":"2025-04-17","v":-3.0},{"t":"2025-04-20","v":-9.6},{"t":"2025-04-23","v":-3.7},{"t":"2025-04-28","v":0},
      {"t":"2025-05-02","v":-7.5},{"t":"2025-05-05","v":-1.7},{"t":"2025-05-08","v":-3.0},{"t":"2025-05-10","v":0},
      {"t":"2025-05-19","v":-3.7},{"t":"2025-05-22","v":-9.6},{"t":"2025-05-26","v":-2.4},{"t":"2025-05-31","v":0},
      {"t":"2025-06-03","v":-7.9},{"t":"2025-06-05","v":-9.6},{"t":"2025-06-09","v":-14.5},{"t":"2025-06-13","v":-11.3},
      {"t":"2025-06-16","v":-12.0},{"t":"2025-06-19","v":-11.3},{"t":"2025-06-23","v":-13.4},{"t":"2025-06-27","v":-8.9},
      {"t":"2025-07-01","v":-10.3},{"t":"2025-07-03","v":-5.5},{"t":"2025-07-07","v":-1.3},{"t":"2025-07-11","v":-3.0},
      {"t":"2025-07-16","v":0},{"t":"2025-07-20","v":-2.0},{"t":"2025-07-24","v":-5.1},{"t":"2025-07-28","v":-1.7},
      {"t":"2025-08-01","v":-10.3},{"t":"2025-08-04","v":-2.7},{"t":"2025-08-08","v":-11.3},{"t":"2025-08-11","v":-5.1},
      {"t":"2025-08-14","v":-0.6},{"t":"2025-08-17","v":-2.7},{"t":"2025-08-22","v":-7.5},{"t":"2025-08-26","v":-12.4},
      {"t":"2025-08-29","v":-18.3},{"t":"2025-09-01","v":-16.9},{"t":"2025-09-05","v":-14.8},{"t":"2025-09-09","v":-15.5},
      {"t":"2025-09-11","v":-21.0},{"t":"2025-09-14","v":-18.9},{"t":"2025-09-18","v":-23.4},{"t":"2025-09-22","v":-27.2},
      {"t":"2025-09-26","v":-30.0},{"t":"2025-09-29","v":-30.0},{"t":"2025-10-02","v":-23.4},{"t":"2025-10-06","v":-27.6},
      {"t":"2025-10-11","v":-28.6},{"t":"2025-10-15","v":-32.1},{"t":"2025-10-20","v":-34.2},{"t":"2025-10-22","v":-35.9},
      {"t":"2025-10-26","v":-32.1},{"t":"2025-10-30","v":-27.9},{"t":"2025-11-03","v":-25.9},{"t":"2025-11-07","v":-24.8},
      {"t":"2025-11-09","v":-23.8},{"t":"2025-11-12","v":-27.2},{"t":"2025-11-16","v":-32.8},{"t":"2025-11-19","v":-37.6},
      {"t":"2025-11-22","v":-39.7},{"t":"2025-11-25","v":-41.8},{"t":"2025-11-29","v":-43.2},{"t":"2025-12-02","v":-45.9},
      {"t":"2025-12-04","v":-41.4},{"t":"2025-12-07","v":-36.2},{"t":"2025-12-10","v":-43.8},{"t":"2025-12-14","v":-42.5},
      {"t":"2025-12-18","v":-45.6},{"t":"2025-12-22","v":-43.8},{"t":"2025-12-27","v":-45.9},{"t":"2025-12-29","v":-47.0},
      {"t":"2026-01-01","v":-48.7},{"t":"2026-01-03","v":-46.6},{"t":"2026-01-07","v":-47.3},{"t":"2026-01-11","v":-46.6},
      {"t":"2026-01-16","v":-45.2},{"t":"2026-01-20","v":-43.5},{"t":"2026-01-24","v":-48.0},{"t":"2026-01-28","v":-46.6},
      {"t":"2026-02-01","v":-43.8},{"t":"2026-02-04","v":-47.0},{"t":"2026-02-08","v":-44.2},{"t":"2026-02-12","v":-45.2},
      {"t":"2026-02-16","v":-45.9},{"t":"2026-02-21","v":-48.0},{"t":"2026-02-25","v":-49.3},{"t":"2026-02-28","v":-45.9},
      {"t":"2026-03-04","v":-42.5},{"t":"2026-03-07","v":-39.7},{"t":"2026-03-11","v":-38.3},{"t":"2026-03-15","v":-34.9},
      {"t":"2026-03-19","v":-41.1},{"t":"2026-03-21","v":-37.3},{"t":"2026-03-24","v":-33.8},{"t":"2026-03-27","v":-30.7},
      {"t":"2026-04-01","v":-34.9},{"t":"2026-04-05","v":-32.1},{"t":"2026-04-09","v":-29.0},{"t":"2026-04-13","v":-26.6},
      {"t":"2026-04-18","v":-27.9},{"t":"2026-04-21","v":-29.3},{"t":"2026-04-25","v":-26.2},{"t":"2026-04-29","v":-29.0},
      {"t":"2026-05-02","v":-21.7},{"t":"2026-05-05","v":-23.8},{"t":"2026-05-10","v":-17.6},{"t":"2026-05-14","v":-23.8},
      {"t":"2026-05-17","v":-18.9},{"t":"2026-05-21","v":-23.1},{"t":"2026-05-24","v":-16.9},{"t":"2026-05-28","v":-21.7},
      {"t":"2026-05-31","v":-19.6},{"t":"2026-06-04","v":-16.9},{"t":"2026-06-07","v":-14.1},{"t":"2026-06-10","v":-18.9},
      {"t":"2026-06-13","v":-23.4},{"t":"2026-06-17","v":-18.9},{"t":"2026-06-20","v":-21.4},{"t":"2026-06-25","v":-25.2},
      {"t":"2026-06-28","v":-20.3},{"t":"2026-07-01","v":-14.8},{"t":"2026-07-05","v":-14.8},{"t":"2026-07-08","v":-21.0},
      {"t":"2026-07-10","v":-18.9}
    ]
  },
  "concat": [
    {
      "width": 906, "height": 543,
      "title": {"text": ["SuperTrend AND Bollinger @ 3x (权重 11.8%)", "最终 21355U, 回撤 -23.01%"]},
      "layer": [
        {"layer": [
          {"data": {"name": "eq1"}, "mark": {"type": "line", "color": "#2ca02c", "strokeWidth": 2.5},
           "encoding": {
             "x": {"field": "t", "type": "temporal", "title": null,
                   "scale": {"type": "utc", "domain": [{"year": 2024, "month": 6, "date": 22, "utc": true}, {"year": 2026, "month": 8, "date": 15, "utc": true}]},
                   "axis": {"values": [{"year": 2024, "month": 7, "date": 1, "utc": true}, {"year": 2024, "month": 10, "date": 1, "utc": true}, {"year": 2025, "month": 1, "date": 1, "utc": true}, {"year": 2025, "month": 4, "date": 1, "utc": true}, {"year": 2025, "month": 7, "date": 1, "utc": true}, {"year": 2025, "month": 10, "date": 1, "utc": true}, {"year": 2026, "month": 1, "date": 1, "utc": true}, {"year": 2026, "month": 4, "date": 1, "utc": true}, {"year": 2026, "month": 7, "date": 1, "utc": true}], "format": "%Y-%m", "grid": true, "labelOverlap": false, "labelFlush": false, "labelPadding": 5}},
             "y": {"field": "v", "type": "quantitative", "title": null,
                   "scale": {"domain": [6801, 26551], "nice": false, "zero": false},
                   "axis": {"orient": "left", "values": [7500, 10000, 12500, 15000, 17500, 20000, 22500, 25000], "format": "d", "grid": true}}
           }},
          {"data": {"values": [{}]}, "mark": {"type": "rule", "color": "#808080", "opacity": 0.55, "strokeWidth": 2.4, "strokeDash": [9, 4]},
           "encoding": {"y": {"datum": 10000, "type": "quantitative"}}}
        ]},
        {"data": {"name": "dd1"}, "mark": {"type": "area", "interpolate": "step-after", "fill": "red", "fillOpacity": 0.3, "stroke": "red", "strokeOpacity": 0.3, "strokeWidth": 1.5},
         "encoding": {
           "x": {"field": "t", "type": "temporal", "title": null, "scale": {"type": "utc", "domain": [{"year": 2024, "month": 6, "date": 22, "utc": true}, {"year": 2026, "month": 8, "date": 15, "utc": true}]}},
           "y": {"field": "v", "type": "quantitative", "title": null,
                 "scale": {"domain": [-24.16, 1.15], "nice": false, "zero": false},
                 "axis": {"orient": "right", "values": [0, -5, -10, -15, -20], "format": "d", "grid": false}},
           "y2": {"datum": 0}
         }}
      ],
      "resolve": {"scale": {"y": "independent"}}
    },
    {
      "width": 906, "height": 543,
      "title": {"text": ["EMA Cross AND Z-Score @ 3x (权重 26.5%)", "最终 19726U, 回撤 -21.53%"]},
      "layer": [
        {"layer": [
          {"data": {"name": "eq2"}, "mark": {"type": "line", "color": "#2ca02c", "strokeWidth": 2.5},
           "encoding": {
             "x": {"field": "t", "type": "temporal", "title": null,
                   "scale": {"type": "utc", "domain": [{"year": 2024, "month": 6, "date": 22, "utc": true}, {"year": 2026, "month": 8, "date": 15, "utc": true}]},
                   "axis": {"values": [{"year": 2024, "month": 7, "date": 1, "utc": true}, {"year": 2024, "month": 10, "date": 1, "utc": true}, {"year": 2025, "month": 1, "date": 1, "utc": true}, {"year": 2025, "month": 4, "date": 1, "utc": true}, {"year": 2025, "month": 7, "date": 1, "utc": true}, {"year": 2025, "month": 10, "date": 1, "utc": true}, {"year": 2026, "month": 1, "date": 1, "utc": true}, {"year": 2026, "month": 4, "date": 1, "utc": true}, {"year": 2026, "month": 7, "date": 1, "utc": true}], "format": "%Y-%m", "grid": true, "labelOverlap": false, "labelFlush": false, "labelPadding": 5}},
             "y": {"field": "v", "type": "quantitative", "title": null,
                   "scale": {"domain": [7180, 21848], "nice": false, "zero": false},
                   "axis": {"orient": "left", "values": [8000, 10000, 12000, 14000, 16000, 18000, 20000], "format": "d", "grid": true}}
           }},
          {"data": {"values": [{}]}, "mark": {"type": "rule", "color": "#808080", "opacity": 0.55, "strokeWidth": 2.4, "strokeDash": [9, 4]},
           "encoding": {"y": {"datum": 10000, "type": "quantitative"}}}
        ]},
        {"data": {"name": "dd2"}, "mark": {"type": "area", "interpolate": "step-after", "fill": "red", "fillOpacity": 0.3, "stroke": "red", "strokeOpacity": 0.3, "strokeWidth": 1.5},
         "encoding": {
           "x": {"field": "t", "type": "temporal", "title": null, "scale": {"type": "utc", "domain": [{"year": 2024, "month": 6, "date": 22, "utc": true}, {"year": 2026, "month": 8, "date": 15, "utc": true}]}},
           "y": {"field": "v", "type": "quantitative", "title": null,
                 "scale": {"domain": [-22.61, 1.08], "nice": false, "zero": false},
                 "axis": {"orient": "right", "values": [0, -5, -10, -15, -20], "format": "d", "grid": false}},
           "y2": {"datum": 0}
         }}
      ],
      "resolve": {"scale": {"y": "independent"}}
    },
    {
      "width": 906, "height": 543,
      "title": {"text": ["ADX AND Bollinger @ 3x (权重 38.2%)", "最终 25653U, 回撤 -49.34%"]},
      "layer": [
        {"layer": [
          {"data": {"name": "eq3"}, "mark": {"type": "line", "color": "#2ca02c", "strokeWidth": 2.5},
           "encoding": {
             "x": {"field": "t", "type": "temporal", "title": null,
                   "scale": {"type": "utc", "domain": [{"year": 2024, "month": 6, "date": 22, "utc": true}, {"year": 2026, "month": 8, "date": 15, "utc": true}]},
                   "axis": {"values": [{"year": 2024, "month": 7, "date": 1, "utc": true}, {"year": 2024, "month": 10, "date": 1, "utc": true}, {"year": 2025, "month": 1, "date": 1, "utc": true}, {"year": 2025, "month": 4, "date": 1, "utc": true}, {"year": 2025, "month": 7, "date": 1, "utc": true}, {"year": 2025, "month": 10, "date": 1, "utc": true}, {"year": 2026, "month": 1, "date": 1, "utc": true}, {"year": 2026, "month": 4, "date": 1, "utc": true}, {"year": 2026, "month": 7, "date": 1, "utc": true}], "format": "%Y-%m", "grid": true, "labelOverlap": false, "labelFlush": false, "labelPadding": 5}},
             "y": {"field": "v", "type": "quantitative", "title": null,
                   "scale": {"domain": [8450, 32976], "nice": false, "zero": false},
                   "axis": {"orient": "left", "values": [10000, 15000, 20000, 25000, 30000], "format": "d", "grid": true}}
           }},
          {"data": {"values": [{}]}, "mark": {"type": "rule", "color": "#808080", "opacity": 0.55, "strokeWidth": 2.4, "strokeDash": [9, 4]},
           "encoding": {"y": {"datum": 10000, "type": "quantitative"}}}
        ]},
        {"data": {"name": "dd3"}, "mark": {"type": "area", "interpolate": "step-after", "fill": "red", "fillOpacity": 0.3, "stroke": "red", "strokeOpacity": 0.3, "strokeWidth": 1.5},
         "encoding": {
           "x": {"field": "t", "type": "temporal", "title": null, "scale": {"type": "utc", "domain": [{"year": 2024, "month": 6, "date": 22, "utc": true}, {"year": 2026, "month": 8, "date": 15, "utc": true}]}},
           "y": {"field": "v", "type": "quantitative", "title": null,
                 "scale": {"domain": [-51.81, 2.47], "nice": false, "zero": false},
                 "axis": {"orient": "right", "values": [0, -10, -20, -30, -40, -50], "format": "d", "grid": false}},
           "y2": {"datum": 0}
         }}
      ],
      "resolve": {"scale": {"y": "independent"}}
    },
    {
      "width": 906, "height": 543,
      "title": {"text": ["SuperTrend AND Z-Score @ 3x (权重 23.4%)", "最终 21355U, 回撤 -23.01%"]},
      "layer": [
        {"layer": [
          {"data": {"name": "eq1"}, "mark": {"type": "line", "color": "#2ca02c", "strokeWidth": 2.5},
           "encoding": {
             "x": {"field": "t", "type": "temporal", "title": null,
                   "scale": {"type": "utc", "domain": [{"year": 2024, "month": 6, "date": 22, "utc": true}, {"year": 2026, "month": 8, "date": 15, "utc": true}]},
                   "axis": {"values": [{"year": 2024, "month": 7, "date": 1, "utc": true}, {"year": 2024, "month": 10, "date": 1, "utc": true}, {"year": 2025, "month": 1, "date": 1, "utc": true}, {"year": 2025, "month": 4, "date": 1, "utc": true}, {"year": 2025, "month": 7, "date": 1, "utc": true}, {"year": 2025, "month": 10, "date": 1, "utc": true}, {"year": 2026, "month": 1, "date": 1, "utc": true}, {"year": 2026, "month": 4, "date": 1, "utc": true}, {"year": 2026, "month": 7, "date": 1, "utc": true}], "format": "%Y-%m", "grid": true, "labelOverlap": false, "labelFlush": false, "labelPadding": 5}},
             "y": {"field": "v", "type": "quantitative", "title": null,
                   "scale": {"domain": [6801, 26551], "nice": false, "zero": false},
                   "axis": {"orient": "left", "values": [7500, 10000, 12500, 15000, 17500, 20000, 22500, 25000], "format": "d", "grid": true}}
           }},
          {"data": {"values": [{}]}, "mark": {"type": "rule", "color": "#808080", "opacity": 0.55, "strokeWidth": 2.4, "strokeDash": [9, 4]},
           "encoding": {"y": {"datum": 10000, "type": "quantitative"}}}
        ]},
        {"data": {"name": "dd1"}, "mark": {"type": "area", "interpolate": "step-after", "fill": "red", "fillOpacity": 0.3, "stroke": "red", "strokeOpacity": 0.3, "strokeWidth": 1.5},
         "encoding": {
           "x": {"field": "t", "type": "temporal", "title": null, "scale": {"type": "utc", "domain": [{"year": 2024, "month": 6, "date": 22, "utc": true}, {"year": 2026, "month": 8, "date": 15, "utc": true}]}},
           "y": {"field": "v", "type": "quantitative", "title": null,
                 "scale": {"domain": [-24.16, 1.15], "nice": false, "zero": false},
                 "axis": {"orient": "right", "values": [0, -5, -10, -15, -20], "format": "d", "grid": false}},
           "y2": {"datum": 0}
         }}
      ],
      "resolve": {"scale": {"y": "independent"}}
    }
  ],
  "columns": 2,
  "spacing": {"row": 20, "column": 5},
  "config": {
    "font": "DejaVu Sans",
    "view": {"stroke": "#000000", "strokeWidth": 1.4},
    "axis": {
      "domain": false,
      "labelFont": "DejaVu Sans",
      "labelFontSize": 17,
      "labelColor": "#000000",
      "tickColor": "#000000",
      "tickSize": 6,
      "tickWidth": 1.4,
      "labelPadding": 8,
      "gridColor": "#b0b0b0",
      "gridOpacity": 0.4,
      "gridWidth": 1.2
    },
    "title": {
      "font": "Noto Sans CJK SC",
      "fontSize": 17.5,
      "fontWeight": "normal",
      "color": "#000000",
      "anchor": "middle",
      "frame": "group",
      "lineHeight": 21,
      "offset": 9
    }
  }
}
